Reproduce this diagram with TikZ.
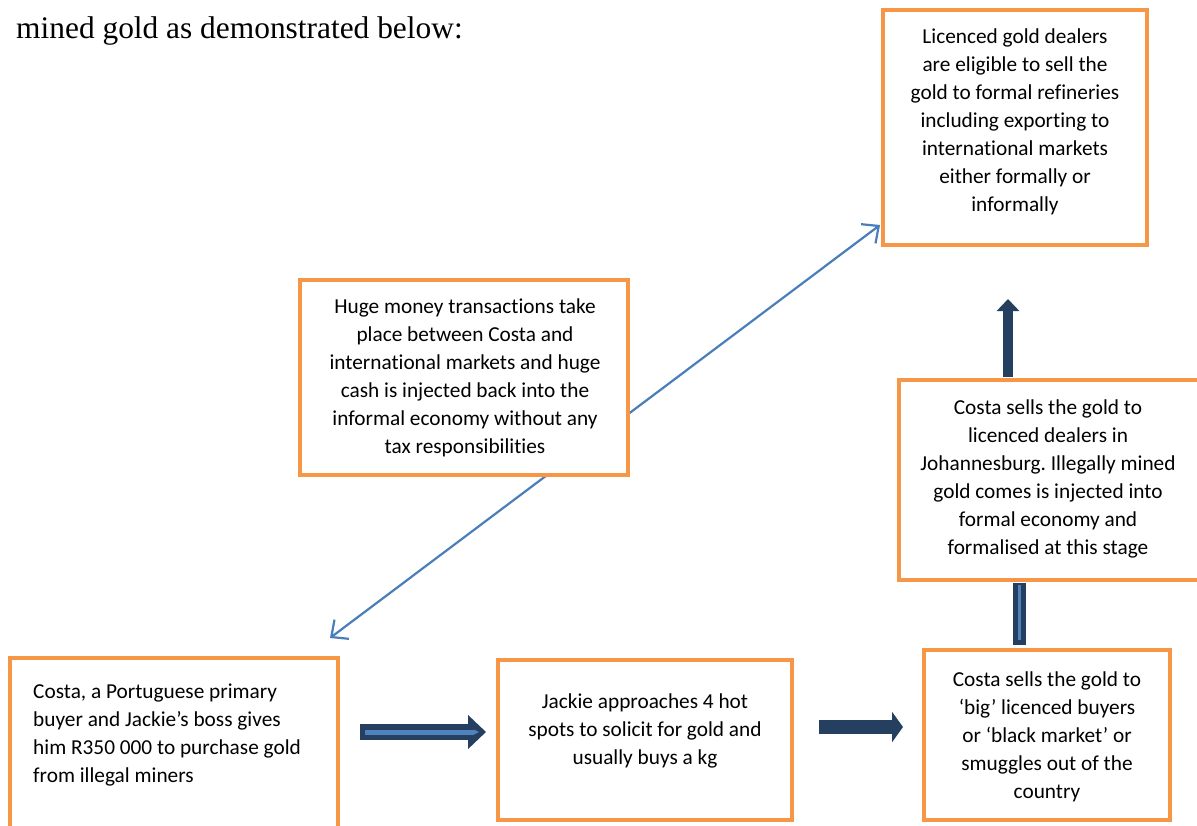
\documentclass[tikz,border=0pt]{standalone}
\usepackage{fontspec}
\setmainfont{Liberation Serif}
\newfontfamily\carl[Ligatures={NoCommon}]{Carlito}
\usetikzlibrary{arrows.meta}
\frenchspacing
\definecolor{orng}{HTML}{F79646}
\definecolor{navy}{HTML}{243F60}
\definecolor{lblue}{HTML}{4F81BD}
\definecolor{lineblue}{HTML}{4A7EBB}
\tikzset{
  box/.style={draw=orng, line width=4pt, fill=white, inner sep=0pt},
  txt/.style={font=\carl\fontsize{21.3}{28}\selectfont, align=center, inner sep=0pt, anchor=north},
  txtl/.style={font=\carl\fontsize{21.3}{28}\selectfont, align=left, inner sep=0pt, anchor=north west},
}
\begin{document}
\begin{tikzpicture}[x=1pt,y=-1pt]
\useasboundingbox (0,0) rectangle (1197,825);
\fill[white] (0,0) rectangle (1197,825);
% header text
\node[anchor=base west, inner sep=0pt, font=\fontsize{31.4}{36}\selectfont] (hdr) at (16,38) {mined gold as demonstrated below:};
% diagonal double arrow (behind box 2)
\coordinate (d1) at (330,638);
\coordinate (d2) at (880,225);
\draw[lineblue, line width=2.2pt, {Straight Barb[length=13pt,width=24pt]}-{Straight Barb[length=13pt,width=24pt]}] (d1) -- (d2);
% boxes
\node[box, minimum width=264pt, minimum height=235pt] (b1) at (1015,127.5) {};
\node[box, minimum width=328pt, minimum height=195pt] (b2) at (464,377.5) {};
\node[box, minimum width=301pt, minimum height=200pt] (b3) at (1049.5,480) {};
\node[box, minimum width=328pt, minimum height=180pt] (b4) at (174,748) {};
\node[box, minimum width=294pt, minimum height=160pt] (b5) at (645,740) {};
\node[box, minimum width=246pt, minimum height=170pt] (b6) at (1047,735) {};
% texts
\node[txt] (t1) at (1015,23.4) {\strut Licenced gold dealers\\are eligible to sell the\\gold to formal refineries\\including exporting to\\international markets\\either formally or\\informally};
\node[txt] (t2) at (465,293.4) {\strut Huge money transactions take\\place between Costa and\\international markets and huge\\cash is injected back into the\\informal economy without any\\tax responsibilities};
\node[txt] (t3) at (1048,394.4) {\strut Costa sells the gold to\\licenced dealers in\\Johannesburg. Illegally mined\\gold comes is injected into\\formal economy and\\formalised at this stage};
\node[txtl] (t4) at (33,678.4) {\strut Costa, a Portuguese primary\\buyer and Jackie’s boss gives\\him R350 000 to purchase gold\\from illegal miners};
\node[txt] (t5) at (645,688.4) {\strut Jackie approaches 4 hot\\spots to solicit for gold and\\usually buys a kg};
\node[txt] (t6) at (1047,666.4) {\strut Costa sells the gold to\\‘big’ licenced buyers\\or ‘black market’ or\\smuggles out of the\\country};
% block arrows
\coordinate (a1s) at (360,732);
\coordinate (a1e) at (486,732);
\draw[navy, line width=16pt, -{Triangle[width=33pt,length=18pt]}] (a1s) -- (a1e);
\draw[lblue, line width=5pt] (365,732) -- (474,732);
\fill[lblue] (474,729.5) -- (479,732) -- (474,734.5) -- cycle;
\coordinate (a2s) at (819,727);
\coordinate (a2e) at (903,727);
\draw[navy, line width=14pt, -{Triangle[width=30pt,length=11pt]}] (a2s) -- (a2e);
\coordinate (a3s) at (1008,377);
\coordinate (a3e) at (1008,299);
\draw[navy, line width=10pt, -{Triangle[width=22pt,length=12pt]}] (a3s) -- (a3e);
\coordinate (v1) at (1019.5,583);
\coordinate (v2) at (1019.5,645);
\draw[navy, line width=13pt] (v1) -- (v2);
\draw[lblue, line width=3.5pt] (1019.5,585) -- (1019.5,640);
\end{tikzpicture}
\end{document}
